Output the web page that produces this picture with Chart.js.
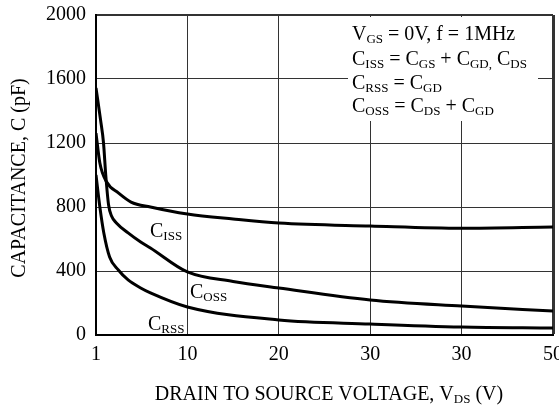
<!DOCTYPE html>
<html>
<head>
<meta charset="utf-8">
<script src="https://cdn.jsdelivr.net/npm/chart.js@4"></script>
<style>
  html, body { margin: 0; padding: 0; background: #fff; }
  #wrap { width: 559px; height: 407px; }
</style>
</head>
<body>
<div id="wrap"><canvas id="capChart" width="559" height="407"></canvas></div>
<script>
// x axis is not linear: 1 -> 10 takes one division, then 10 V per division
const xTickLabels = ['1', '10', '20', '30', '30', '50'];
const yTicks = [0, 400, 800, 1200, 1600, 2000];

// drain-source voltage (V) and capacitance (pF)
const cissV = [1, 1.38, 2.05, 3.2, 4.45, 6.36, 10, 15, 20, 30, 40, 50];
const cissC = [1262, 1075, 956, 888, 831, 800, 756, 725, 700, 681, 667, 675];

const cossV = [1, 1.45, 1.74, 1.96, 2.24, 2.53, 3.01, 4.16, 5.4, 6.36, 10, 15, 20, 30, 40, 50];
const cossC = [1544, 1344, 1200, 1000, 812, 744, 700, 638, 581, 544, 394, 335, 294, 219, 181, 150];

const crssV = [1, 1.38, 1.77, 2.34, 3.2, 4.16, 5.4, 6.36, 10, 20, 30, 40, 50];
const crssC = [1000, 800, 638, 488, 406, 344, 294, 263, 175, 94, 69, 50, 44];

function toAxis(v) {
  return v <= 10 ? (v - 1) / 9 : 1 + (v - 10) / 10;
}
function pts(vs, cs) {
  return vs.map((v, i) => ({ x: toAxis(v), y: cs[i] }));
}

const SERIF = '"Liberation Serif", "Times New Roman", serif';

// draw text with subscript pieces: parts = [[text, isSub], ...]
function rich(ctx, x, y, parts, size, subSize) {
  let cx = x;
  parts.forEach(([t, sub]) => {
    ctx.font = (sub ? subSize : size) + 'px ' + SERIF;
    ctx.fillText(t, cx, sub ? y + 3 : y);
    cx += ctx.measureText(t).width;
  });
  return cx;
}
function richWidth(ctx, parts, size, subSize) {
  let w = 0;
  parts.forEach(([t, sub]) => {
    ctx.font = (sub ? subSize : size) + 'px ' + SERIF;
    w += ctx.measureText(t).width;
  });
  return w;
}

const textPlugin = {
  id: 'textPlugin',
  afterDraw(chart) {
    const ctx = chart.ctx;
    ctx.save();
    ctx.textAlign = 'left';
    ctx.textBaseline = 'alphabetic';

    // condition box
    ctx.fillStyle = '#fff';
    ctx.fillRect(348, 17, 190, 104);
    ctx.fillStyle = '#000';
    rich(ctx, 352, 40, [['V'], ['GS', 1], [' = 0V, f = 1MHz']], 20, 13);
    rich(ctx, 352, 65, [['C'], ['ISS', 1], [' = C'], ['GS', 1], [' + C'], ['GD,', 1], [' C'], ['DS', 1]], 20, 13);
    rich(ctx, 352, 89, [['C'], ['RSS', 1], [' = C'], ['GD', 1]], 20, 13);
    rich(ctx, 352, 112, [['C'], ['OSS', 1], [' = C'], ['DS', 1], [' + C'], ['GD', 1]], 20, 13);

    // curve labels
    rich(ctx, 150, 237, [['C'], ['ISS', 1]], 20, 13);
    rich(ctx, 190, 298, [['C'], ['OSS', 1]], 20, 13);
    rich(ctx, 148, 330, [['C'], ['RSS', 1]], 20, 13);

    // x title
    const xt = [['DRAIN TO SOURCE VOLTAGE, V'], ['DS', 1], [' (V)']];
    const w = richWidth(ctx, xt, 20, 13);
    rich(ctx, 329 - w / 2, 400, xt, 20, 13);

    // y title
    ctx.translate(25, 178);
    ctx.rotate(-Math.PI / 2);
    ctx.font = '20px ' + SERIF;
    ctx.textAlign = 'center';
    ctx.fillText('CAPACITANCE, C (pF)', 0, 0);
    ctx.restore();
  }
};

const lineStyle = {
  borderColor: '#000',
  borderWidth: 3,
  pointRadius: 0,
  fill: false,
  cubicInterpolationMode: 'monotone'
};

new Chart(document.getElementById('capChart'), {
  type: 'line',
  data: {
    datasets: [
      Object.assign({ label: 'Ciss', data: pts(cissV, cissC) }, lineStyle),
      Object.assign({ label: 'Coss', data: pts(cossV, cossC) }, lineStyle),
      Object.assign({ label: 'Crss', data: pts(crssV, crssC) }, lineStyle)
    ]
  },
  options: {
    responsive: false,
    animation: false,
    layout: { padding: { top: 15, right: 6, left: 0, bottom: 0 } },
    plugins: { legend: { display: false }, tooltip: { enabled: false } },
    scales: {
      x: {
        type: 'linear',
        min: 0,
        max: xTickLabels.length - 1,
        afterBuildTicks: s => { s.ticks = xTickLabels.map((_, i) => ({ value: i })); },
        afterFit: s => { s.height = 72; s.paddingLeft = 0; s.paddingRight = 0; },
        ticks: {
          callback: v => xTickLabels[v],
          color: '#000',
          padding: 8,
          maxRotation: 0,
          font: { family: SERIF, size: 20 }
        },
        grid: {
          drawTicks: false,
          color: '#333',
          lineWidth: c => (c.index === xTickLabels.length - 1 ? 3 : 1)
        },
        border: { display: true, color: '#000', width: 2 }
      },
      y: {
        min: 0,
        max: 2000,
        afterBuildTicks: s => { s.ticks = yTicks.map(v => ({ value: v })); },
        afterFit: s => { s.width = 96; s.paddingTop = 0; s.paddingBottom = 0; },
        ticks: {
          callback: v => String(v),
          color: '#000',
          padding: 10,
          font: { family: SERIF, size: 20 }
        },
        grid: {
          drawTicks: false,
          color: '#333',
          lineWidth: c => (c.index === yTicks.length - 1 ? 2 : 1)
        },
        border: { display: true, color: '#000', width: 2 }
      }
    }
  },
  plugins: [textPlugin]
});
</script>
</body>
</html>
